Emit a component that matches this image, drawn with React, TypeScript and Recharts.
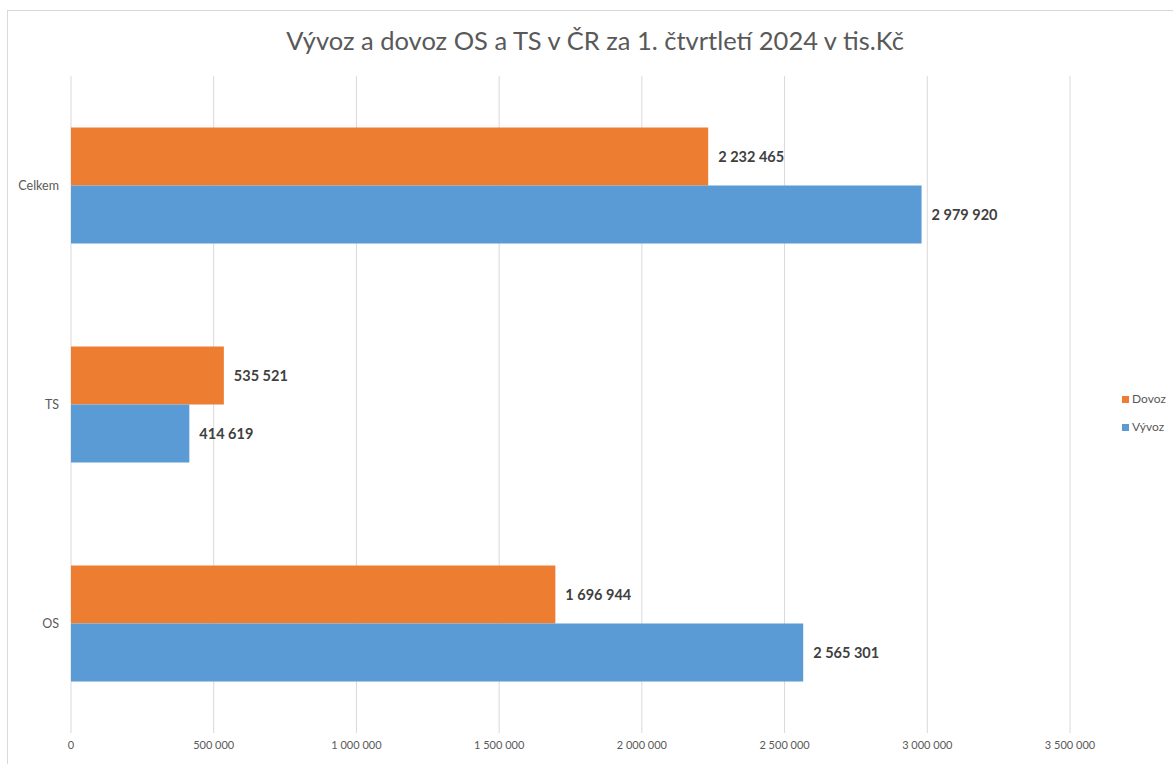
import React from "react"
import {
  Bar,
  BarChart,
  CartesianGrid,
  LabelList,
  XAxis,
  YAxis,
} from "recharts"

// values in thousands of CZK
const categories = ["Celkem", "TS", "OS"]
const dovoz = [2232465, 535521, 1696944]
const vyvoz = [2979920, 414619, 2565301]
const xTicks = [0, 500000, 1000000, 1500000, 2000000, 2500000, 3000000, 3500000]

const data = categories.map((name, i) => ({ name, dovoz: dovoz[i], vyvoz: vyvoz[i] }))

const fmt = (v: number) => String(v).replace(/\B(?=(\d{3})+(?!\d))/g, " ")

const FONT = "Lato, 'Liberation Sans', sans-serif"

export default function App() {
  return (
    <div style={{ position: "absolute", left: 0, top: 0, width: 1173, height: 764, background: "#fff", fontFamily: FONT, overflow: "hidden" }}>
      {/* chart frame */}
      <div style={{ position: "absolute", left: 7, top: 10, width: 1200, height: 800, borderLeft: "1px solid #d9d9d9", borderTop: "1px solid #d9d9d9" }} />
      <div style={{ position: "absolute", left: 0, width: 1190, top: 25, textAlign: "center", fontSize: 25.5, color: "#595959" }}>
        Vývoz a dovoz OS a TS v ČR za 1. čtvrtletí 2024 v tis.Kč
      </div>
      <BarChart
        width={1173}
        height={764}
        data={data}
        layout="vertical"
        margin={{ top: 76, right: 103, bottom: 1, left: 0 }}
        barCategoryGap="23.5%"
        barGap={0}
        style={{ position: "absolute", left: 0, top: 0 }}
      >
        <CartesianGrid horizontal={false} stroke="#d9d9d9" />
        <XAxis
          type="number"
          domain={[0, 3500000]}
          ticks={xTicks}
          tickFormatter={fmt}
          axisLine={false}
          tickLine={false}
          height={30}
          tick={{ fill: "#595959", fontSize: 11, fontFamily: FONT }}
        />
        <YAxis
          type="category"
          dataKey="name"
          width={71}
          axisLine={false}
          tickLine={false}
          tickMargin={6}
          tick={{ fill: "#595959", fontSize: 12.5, fontFamily: FONT }}
        />
        <Bar dataKey="dovoz" name="Dovoz" fill="#ED7D31" isAnimationActive={false}>
          <LabelList dataKey="dovoz" position="right" offset={10} formatter={(v: number) => fmt(v)} fill="#404040" fontSize={14.5} fontWeight="bold" fontFamily={FONT} />
        </Bar>
        <Bar dataKey="vyvoz" name="Vývoz" fill="#5B9BD5" isAnimationActive={false}>
          <LabelList dataKey="vyvoz" position="right" offset={10} formatter={(v: number) => fmt(v)} fill="#404040" fontSize={14.5} fontWeight="bold" fontFamily={FONT} />
        </Bar>
      </BarChart>
      <div style={{ position: "absolute", left: 1122, top: 385, fontSize: 12, color: "#595959", lineHeight: "28px" }}>
        <div style={{ display: "flex", alignItems: "center", gap: 3 }}>
          <span style={{ width: 7, height: 7, background: "#ED7D31", display: "inline-block" }} />Dovoz
        </div>
        <div style={{ display: "flex", alignItems: "center", gap: 3 }}>
          <span style={{ width: 7, height: 7, background: "#5B9BD5", display: "inline-block" }} />Vývoz
        </div>
      </div>
    </div>
  )
}
